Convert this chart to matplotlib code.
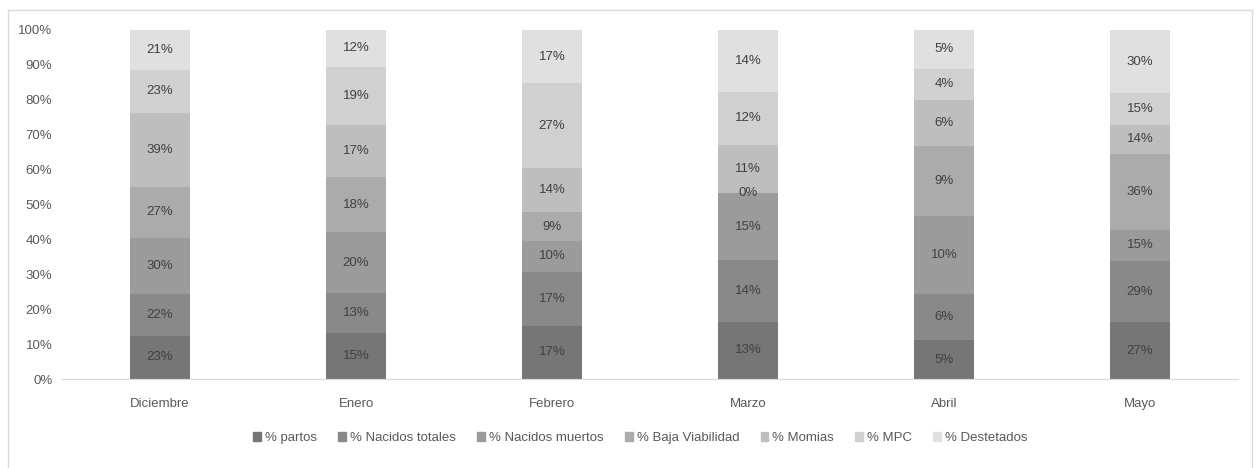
import numpy as np
import matplotlib
matplotlib.use('Agg')
from matplotlib import pyplot as plt
from matplotlib.lines import Line2D

plt.rcParams['font.family'] = ['Liberation Sans', 'DejaVu Sans']

months = ['Diciembre', 'Enero', 'Febrero', 'Marzo', 'Abril', 'Mayo']
series = ['% partos', '% Nacidos totales', '% Nacidos muertos',
          '% Baja Viabilidad', '% Momias', '% MPC', '% Destetados']
partos = [23, 15, 17, 13, 5, 27]
nacidos_totales = [22, 13, 17, 14, 6, 29]
nacidos_muertos = [30, 20, 10, 15, 10, 15]
baja_viabilidad = [27, 18, 9, 0, 9, 36]
momias = [39, 17, 14, 11, 6, 14]
mpc = [23, 19, 27, 12, 4, 15]
destetados = [21, 12, 17, 14, 5, 30]

colors = ['#767676', '#898989', '#9b9b9b', '#ababab',
          '#bebebe', '#d0d0d0', '#e0e0e0']
txt = '#595959'

vals = np.array([partos, nacidos_totales, nacidos_muertos, baja_viabilidad,
                 momias, mpc, destetados], dtype=float)
share = vals / vals.sum(axis=0)

fig = plt.figure(figsize=(12.56, 4.68), dpi=100)
ax = fig.add_axes([62/1256, 89/468, 1176/1256, 349/468])

x = np.arange(len(months))
bottom = np.zeros(len(months))
for i, name in enumerate(series):
    bars = ax.bar(x, share[i], 0.31, bottom=bottom, color=colors[i],
                  label=name, linewidth=0)
    ax.bar_label(bars, labels=['%d%%' % v for v in vals[i]],
                 label_type='center', color='#404040', fontsize=9.5)
    bottom += share[i]

ax.set_xlim(-0.5, len(months) - 0.5)
ax.set_ylim(0, 1)
ax.set_yticks(np.arange(0, 1.01, 0.1))
ax.set_yticklabels(['%d%%' % (v * 100) for v in np.arange(0, 1.01, 0.1)])
ax.set_xticks(x)
ax.set_xticklabels(months)
ax.tick_params(length=0, colors=txt, labelsize=9.5)
ax.tick_params(axis='x', pad=14)
ax.tick_params(axis='y', pad=7)
for s in ['top', 'right', 'left']:
    ax.spines[s].set_visible(False)
ax.spines['bottom'].set_color('#d9d9d9')

# chart frame
frame = '#d9d9d9'
fig.add_artist(Line2D([8/1256, 8/1256], [0, 1 - 10/468], color=frame, lw=1))
fig.add_artist(Line2D([8/1256, 1252/1256], [1 - 10/468, 1 - 10/468], color=frame, lw=1))
fig.add_artist(Line2D([1252/1256, 1252/1256], [0, 1 - 10/468], color=frame, lw=1))

handles = [plt.Rectangle((0, 0), 1, 1, color=c) for c in colors]
fig.legend(handles, series, loc='center', bbox_to_anchor=(0.51, 30/468),
           ncol=7, frameon=False, fontsize=9.5, labelcolor=txt,
           handlelength=0.6, handleheight=0.6, handletextpad=0.3,
           columnspacing=1.6)

fig.savefig('out.png', dpi=100)
